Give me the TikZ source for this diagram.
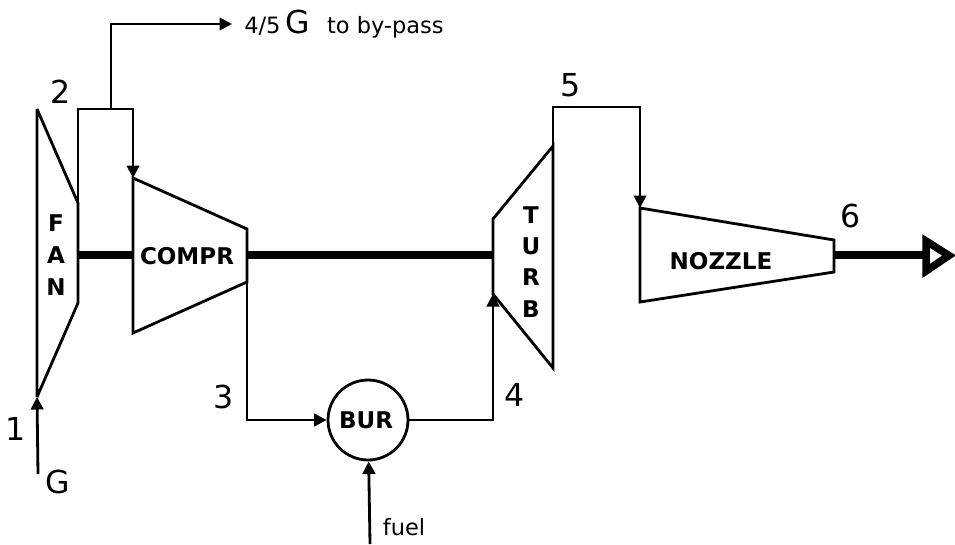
\documentclass[tikz,border=0pt]{standalone}
\usepackage{fontspec}
\setmainfont{DejaVu Sans}
\usepackage{tikz}
\usetikzlibrary{arrows.meta}

\tikzset{
    pipe/.style={line width=0.056cm, line join=miter, miter limit=3},
    flow/.style={pipe, -{Triangle[length=0.25cm, width=0.25cm]}},
    shaft/.style={line width=0.17cm},
    part/.style={font=\fontsize{13.1}{16}\selectfont\bfseries, inner sep=0pt},
    station/.style={font=\fontsize{18}{20}\selectfont, inner sep=0pt},
    note/.style={font=\fontsize{12.8}{15}\selectfont, inner sep=0pt}
}

\begin{document}
\begin{tikzpicture}[x=0.02cm, y=-0.02cm]
        \useasboundingbox (0, 0) rectangle (955, 544);

        % corner points
        \coordinate (fanin) at (37, 397);
        \coordinate (gin) at (38, 474);
        \coordinate (comprin) at (133, 178);
        \coordinate (comprout) at (247, 282);
        \coordinate (turbin) at (493, 294);
        \coordinate (turbout) at (553, 146);
        \coordinate (nozzlein) at (640, 208);
        \coordinate (fuelin) at (370, 544);
        \coordinate (bypass) at (232, 24);

        % shafts
        \draw[shaft] (78, 255) -- (133, 255);
        \draw[shaft] (247, 255) -- (493, 255);
        \draw[shaft] (834, 255) -- (926, 255);
        \draw[line width=0.15cm, line join=miter, fill=white] (926, 241) -- (949, 255.5) -- (926, 271) -- cycle;

        % machines
        \draw[pipe] (37, 109) -- (78, 203) -- (78, 303) -- (fanin) -- cycle;
        \draw[pipe] (comprin) -- (247, 229) -- (comprout) -- (133, 333) -- cycle;
        \draw[pipe] (493, 219) -- (turbout) -- (553, 368) -- (turbin) -- cycle;
        \draw[pipe] (nozzlein) -- (834, 240) -- (834, 272) -- (640, 302) -- cycle;
        \node[draw, circle, pipe, minimum size=1.6cm, inner sep=0pt] (bur) at (368, 420) {};

        % flow lines
        \draw[flow] (gin) -- (fanin);
        \draw[flow] (78, 203) -- (78, 109) -- (133, 109) -- (comprin);
        \draw[flow] (111, 109) -- (111, 24) -- (bypass);
        \draw[flow] (comprout) |- (bur);
        \draw[flow] (bur) -| (turbin);
        \draw[flow] (turbout) |- (640, 107) -- (nozzlein);
        \draw[flow] (fuelin) -- (bur);

        % machine names
        \node[part, align=center] (fan) at (56, 255) {F\\[0.07cm]A\\[0.07cm]N};
        \node[part] (compr) at (187, 256) {COMPR};
        \node[part] (burname) at (366, 420) {BUR};
        \node[part, align=center] (turb) at (531, 262) {T\\[0.06cm]U\\[0.06cm]R\\[0.06cm]B};
        \node[part] (nozzle) at (721, 261) {NOZZLE};

        % stations
        \node[station] (st1) at (16, 429) {1};
        \node[station] (st2) at (61, 92) {2};
        \node[station] (st3) at (224, 397) {3};
        \node[station] (st4) at (515, 395) {4};
        \node[station] (st5) at (571, 85) {5};
        \node[station] (st6) at (851, 216) {6};
        \node[station] (gmass) at (58, 482) {G};

        \node[note, anchor=west] (bypassnote) at (244, 24) {4/5\hspace{0.1cm}{\fontsize{18}{20}\selectfont G}\hspace{0.34cm}to by-pass};
        \node[note] (fuelnote) at (404, 527) {fuel};
    \end{tikzpicture}
\end{document}
